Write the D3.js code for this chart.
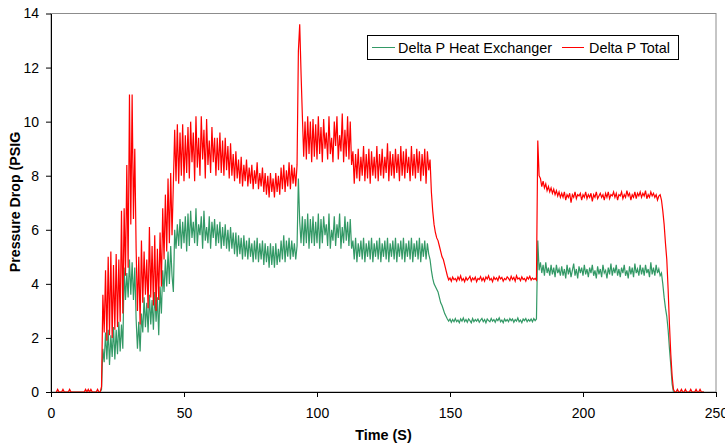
<!DOCTYPE html>
<html>
<head>
<meta charset="utf-8">
<script src="https://cdn.jsdelivr.net/npm/d3@7"></script>
<style>
  body { margin: 0; background: #fff; }
  text { font-family: Arial, "Liberation Sans", sans-serif; }
</style>
</head>
<body>
<div id="chart"></div>
<script>
// samples every half second, first sample at t = 2 s
const tStart = 2;
const tStep = 0.5;

const seriesNames = ["Delta P Heat Exchanger", "Delta P Total"];
const seriesColors = ["#339966", "#ff0000"];

const xTicks = [0, 50, 100, 150, 200, 250];
const yTicks = [0, 2, 4, 6, 8, 10, 12, 14];

// Delta P Heat Exchanger (PSIG), one row = 10 s
const heatExchanger = [
  0, 0, 0, 0, 0, 0, 0, 0, 0, 0, 0, 0, 0, 0, 0, 0, 0, 0, 0, 0,
  0, 0, 0, 0, 0, 0, 0, 0, 0, 0, 0, 0, 0, 0, 0.1, 1.6, 1.1, 2.2, 1.2, 2.3,
  1.0, 2.1, 1.3, 2.4, 1.2, 2.3, 1.4, 2.6, 1.5, 2.5, 1.6, 4.6, 3.4, 4.4, 3.5, 4.9, 3.6, 4.8, 3.4, 4.6,
  2.7, 1.6, 2.6, 1.5, 2.9, 2.2, 3.5, 2.4, 3.3, 2.2, 3.6, 2.5, 3.4, 2.3, 3.7, 2.6, 3.5, 2.1, 3.9, 2.9,
  4.5, 3.7, 4.9, 3.9, 5.2, 4.0, 5.4, 4.3, 3.7, 6.0, 5.3, 6.2, 5.4, 6.4, 5.3, 6.3, 5.5, 6.5, 5.2, 6.6,
  5.4, 6.7, 5.7, 6.3, 5.5, 6.8, 5.4, 6.2, 5.8, 6.5, 5.3, 6.7, 5.6, 6.1, 5.5, 6.5, 5.3, 6.3, 5.7, 6.4,
  5.4, 6.2, 5.5, 6.3, 5.3, 6.1, 5.4, 6.2, 5.3, 6.0, 5.2, 6.1, 5.3, 5.9, 5.1, 5.9, 5.0, 5.8, 5.1, 5.7,
  4.9, 5.8, 5.0, 5.6, 4.9, 5.7, 5.0, 5.5, 4.8, 5.6, 4.9, 5.7, 4.8, 5.5, 4.9, 5.6, 4.7, 5.5, 4.8, 5.4,
  4.6, 5.5, 4.7, 5.4, 4.6, 5.5, 4.7, 5.3, 4.8, 5.6, 4.9, 5.8, 4.8, 5.6, 5.0, 5.7, 4.9, 5.6, 5.0, 5.5,
  4.9, 5.4, 7.9, 6.3, 5.5, 6.5, 5.4, 6.4, 5.5, 6.6, 5.3, 6.4, 5.5, 6.5, 5.4, 6.3, 5.5, 6.6, 5.3, 6.4,
  5.5, 6.5, 5.8, 6.2, 5.4, 6.6, 5.3, 6.0, 5.6, 6.5, 5.4, 6.2, 5.7, 6.6, 5.3, 6.1, 5.5, 6.5, 5.6, 6.3,
  5.4, 6.4, 5.3, 5.6, 4.9, 5.7, 4.8, 5.5, 5.0, 5.6, 4.9, 5.7, 4.8, 5.5, 5.0, 5.6, 4.9, 5.7, 4.8, 5.5,
  5.0, 5.6, 4.9, 5.7, 4.8, 5.5, 5.0, 5.6, 4.9, 5.7, 4.8, 5.5, 5.0, 5.6, 4.9, 5.7, 4.8, 5.5, 5.0, 5.6,
  4.9, 5.7, 4.8, 5.5, 5.0, 5.6, 4.9, 5.7, 4.8, 5.5, 5.0, 5.6, 4.9, 5.7, 4.8, 5.5, 5.0, 5.6, 4.9, 5.5,
  5.1, 4.9, 4.5, 4.2, 4.0, 3.9, 3.8, 3.7, 3.5, 3.3, 3.2, 3.05, 2.9, 2.8, 2.7, 2.62, 2.7, 2.58, 2.68, 2.6,
  2.72, 2.6, 2.66, 2.56, 2.7, 2.62, 2.74, 2.6, 2.68, 2.58, 2.7, 2.64, 2.56, 2.72, 2.6, 2.68, 2.62, 2.7, 2.58, 2.66,
  2.72, 2.6, 2.68, 2.56, 2.7, 2.64, 2.6, 2.72, 2.62, 2.68, 2.58, 2.7, 2.64, 2.74, 2.6, 2.66, 2.56, 2.7, 2.62, 2.68,
  2.6, 2.72, 2.64, 2.7, 2.58, 2.68, 2.62, 2.74, 2.6, 2.66, 2.56, 2.7, 2.64, 2.72, 2.6, 2.68, 2.62, 2.7, 2.6, 2.72,
  2.64, 2.7, 5.6, 4.5, 4.8, 4.4, 4.7, 4.3, 4.8, 4.4, 4.6, 4.3, 4.7, 4.35, 4.6, 4.25, 4.7, 4.4, 4.55, 4.3,
  4.65, 4.3, 4.55, 4.2, 4.7, 4.35, 4.6, 4.25, 4.5, 4.75, 4.3, 4.55, 4.2, 4.65, 4.4, 4.6, 4.3, 4.7, 4.35, 4.55,
  4.25, 4.6, 4.4, 4.7, 4.3, 4.5, 4.2, 4.65, 4.35, 4.55, 4.25, 4.7, 4.4, 4.5, 4.2, 4.6, 4.35, 4.75, 4.3, 4.6,
  4.4, 4.7, 4.3, 4.55, 4.25, 4.6, 4.4, 4.7, 4.3, 4.5, 4.2, 4.65, 4.35, 4.6, 4.25, 4.75, 4.4, 4.55, 4.3, 4.7,
  4.35, 4.6, 4.3, 4.7, 4.4, 4.55, 4.25, 4.8, 4.35, 4.6, 4.3, 4.7, 4.4, 4.55, 4.3, 4.4, 4.0, 3.5, 3.1, 2.8,
  2.3, 1.6, 1.0, 0.3, 0, 0, 0, 0, 0, 0, 0, 0, 0, 0, 0, 0, 0, 0, 0, 0,
  0, 0, 0, 0, 0, 0, 0, 0
];

// Delta P Total (PSIG), one row = 10 s
const total = [
  0, 0.1, 0, 0, 0, 0.1, 0, 0, 0, 0, 0.1, 0, 0, 0, 0, 0, 0, 0, 0, 0,
  0, 0, 0.1, 0, 0.1, 0, 0.1, 0, 0, 0, 0, 0.1, 0, 0, 0.2, 3.6, 2.2, 4.5, 1.9, 5.0,
  2.1, 5.2, 2.0, 4.7, 2.3, 5.1, 2.4, 4.9, 2.6, 6.7, 2.9, 6.8, 4.3, 8.4, 4.6, 11.0, 6.2, 11.0, 6.4, 9.0,
  5.3, 3.0, 5.0, 2.5, 5.6, 3.3, 5.2, 3.6, 4.9, 3.1, 6.1, 3.5, 5.4, 3.2, 5.8, 3.0, 5.3, 3.4, 5.9, 3.9,
  6.8, 4.9, 7.3, 5.2, 7.9, 5.5, 8.1, 5.8, 7.7, 9.7, 7.8, 9.9, 7.7, 9.6, 8.0, 9.9, 7.8, 9.5, 8.1, 9.8,
  7.9, 10.0, 8.5, 9.6, 7.8, 10.2, 8.3, 9.4, 8.0, 10.2, 8.6, 9.7, 7.9, 10.1, 8.4, 9.3, 8.1, 9.8, 8.5, 9.4,
  8.0, 9.4, 8.2, 9.6, 8.1, 9.3, 8.0, 9.4, 8.2, 9.1, 7.9, 9.2, 8.0, 8.8, 7.8, 8.9, 7.9, 8.6, 7.7, 8.7,
  7.6, 8.4, 7.8, 8.6, 7.6, 8.3, 7.7, 8.4, 7.5, 8.2, 7.7, 8.5, 7.5, 8.1, 7.6, 8.3, 7.4, 8.1, 7.3, 8.0,
  7.2, 8.1, 7.4, 7.9, 7.2, 8.1, 7.4, 8.0, 7.3, 8.3, 7.5, 8.4, 7.4, 8.2, 7.6, 8.5, 7.5, 8.4, 7.7, 8.3,
  7.6, 8.4, 12.6, 13.6, 11.8, 10.2, 8.7, 10.0, 8.6, 10.2, 8.8, 10.0, 8.5, 10.1, 8.7, 9.9, 8.6, 10.2, 8.8, 9.8,
  8.5, 10.1, 9.0, 9.6, 8.6, 10.2, 8.8, 9.4, 8.5, 10.0, 9.1, 10.2, 8.6, 9.5, 8.9, 10.3, 8.5, 9.7, 8.7, 10.2,
  8.6, 10.0, 8.4, 8.9, 7.7, 8.8, 7.9, 9.0, 7.8, 8.7, 8.0, 9.1, 7.8, 8.8, 7.9, 9.0, 7.7, 8.9, 8.0, 8.7,
  7.9, 9.1, 7.8, 8.8, 8.0, 9.0, 7.9, 8.7, 8.1, 9.2, 7.8, 8.9, 8.0, 8.8, 7.9, 9.0, 8.1, 8.8, 7.8, 9.1,
  8.0, 8.9, 7.9, 9.0, 8.1, 8.7, 7.8, 9.1, 8.0, 8.8, 7.9, 9.0, 8.1, 8.9, 7.8, 8.8, 8.0, 9.0, 7.7, 8.9,
  8.2, 8.6, 7.4, 6.7, 6.2, 5.9, 5.7, 5.6, 5.4, 5.2, 5.0, 4.9, 4.7, 4.5, 4.3, 4.15, 4.22, 4.1, 4.25, 4.15,
  4.2, 4.1, 4.26, 4.15, 4.3, 4.12, 4.2, 4.08, 4.24, 4.14, 4.2, 4.28, 4.1, 4.22, 4.15, 4.25, 4.08, 4.2, 4.16, 4.27,
  4.12, 4.22, 4.1, 4.26, 4.18, 4.3, 4.14, 4.2, 4.08, 4.25, 4.16, 4.22, 4.12, 4.28, 4.18, 4.24, 4.1, 4.2, 4.15, 4.26,
  4.2, 4.12, 4.28, 4.16, 4.24, 4.1, 4.3, 4.18, 4.22, 4.12, 4.26, 4.16, 4.2, 4.1, 4.25, 4.18, 4.28, 4.14, 4.22, 4.16,
  4.2, 4.14, 9.3, 8.0, 7.9, 7.6, 7.8, 7.55, 7.7, 7.45, 7.6, 7.4, 7.55, 7.35, 7.5, 7.3, 7.45, 7.25, 7.4, 7.2,
  7.35, 7.2, 7.4, 7.1, 7.3, 7.2, 7.35, 7.0, 7.3, 7.2, 7.4, 7.15, 7.3, 7.25, 7.35, 7.1, 7.3, 7.2, 7.4, 7.15,
  7.3, 7.2, 7.35, 7.05, 7.3, 7.2, 7.4, 7.15, 7.25, 7.35, 7.2, 7.3, 7.1, 7.35, 7.2, 7.4, 7.15, 7.3, 7.25, 7.4,
  7.2, 7.35, 7.1, 7.3, 7.25, 7.4, 7.15, 7.3, 7.2, 7.45, 7.25, 7.35, 7.1, 7.3, 7.2, 7.4, 7.15, 7.35, 7.25, 7.4,
  7.2, 7.35, 7.25, 7.45, 7.15, 7.3, 7.2, 7.4, 7.25, 7.35, 7.2, 7.3, 7.1, 7.25, 7.3, 7.1, 6.7, 6.2, 5.5, 4.9,
  3.8, 2.5, 1.4, 0.6, 0.1, 0, 0, 0.1, 0, 0, 0.1, 0, 0, 0.1, 0, 0, 0, 0.1, 0, 0,
  0, 0.1, 0, 0, 0.1, 0, 0, 0
];

const width = 725, height = 447;
const margin = { top: 13.5, right: 9, bottom: 55, left: 51 };

const svg = d3.select("#chart")
  .append("svg")
  .attr("width", width)
  .attr("height", height);

const x = d3.scaleLinear()
  .domain([0, 250])
  .range([margin.left, width - margin.right]);

const y = d3.scaleLinear()
  .domain([0, 14])
  .range([height - margin.bottom, margin.top]);

// plot area border (grey)
svg.append("rect")
  .attr("x", x(0))
  .attr("y", y(14))
  .attr("width", x(250) - x(0))
  .attr("height", y(0) - y(14))
  .attr("fill", "none")
  .attr("stroke", "#8c8c8c")
  .attr("stroke-width", 1);

// series lines (heat exchanger first, total drawn over it)
const line = d3.line()
  .x((d, i) => x(tStart + i * tStep))
  .y(d => y(d));

[heatExchanger, total].forEach((vals, k) => {
  svg.append("path")
    .datum(vals)
    .attr("fill", "none")
    .attr("stroke", seriesColors[k])
    .attr("stroke-width", 1.2)
    .attr("d", line);
});

// axes
const yAxis = svg.append("g")
  .attr("transform", `translate(${x(0)},0)`)
  .call(d3.axisLeft(y).tickValues(yTicks).tickSize(5).tickSizeOuter(0).tickPadding(7));

const xAxis = svg.append("g")
  .attr("transform", `translate(0,${y(0)})`)
  .call(d3.axisBottom(x).tickValues(xTicks).tickSize(5).tickSizeOuter(0).tickPadding(11));

[xAxis, yAxis].forEach(g => {
  g.select(".domain").attr("stroke", "#000");
  g.selectAll(".tick line").attr("stroke", "#000");
  g.selectAll(".tick text")
    .attr("fill", "#000")
    .style("font-size", "14px")
    .style("font-family", "Arial, 'Liberation Sans', sans-serif");
});

// axis titles
svg.append("text")
  .attr("x", (x(0) + x(250)) / 2)
  .attr("y", 440)
  .attr("text-anchor", "middle")
  .style("font-size", "14.4px")
  .style("font-weight", "bold")
  .text("Time (S)");

svg.append("text")
  .attr("transform", "translate(20,202) rotate(-90)")
  .attr("text-anchor", "middle")
  .style("font-size", "14.2px")
  .style("font-weight", "bold")
  .text("Pressure Drop (PSIG");

// legend
const legend = svg.append("g");
legend.append("rect")
  .attr("x", 367.5)
  .attr("y", 35.5)
  .attr("width", 311)
  .attr("height", 24)
  .attr("fill", "#fff")
  .attr("stroke", "#000")
  .attr("stroke-width", 1);

const legendItems = [
  { x1: 372, x2: 395, tx: 398 },
  { x1: 562, x2: 584, tx: 589 }
];

legendItems.forEach((item, k) => {
  legend.append("line")
    .attr("x1", item.x1).attr("x2", item.x2)
    .attr("y1", 47.5).attr("y2", 47.5)
    .attr("stroke", seriesColors[k])
    .attr("stroke-width", 1);
  legend.append("text")
    .attr("x", item.tx)
    .attr("y", 52.5)
    .style("font-size", "14.4px")
    .text(seriesNames[k]);
});
</script>
</body>
</html>
